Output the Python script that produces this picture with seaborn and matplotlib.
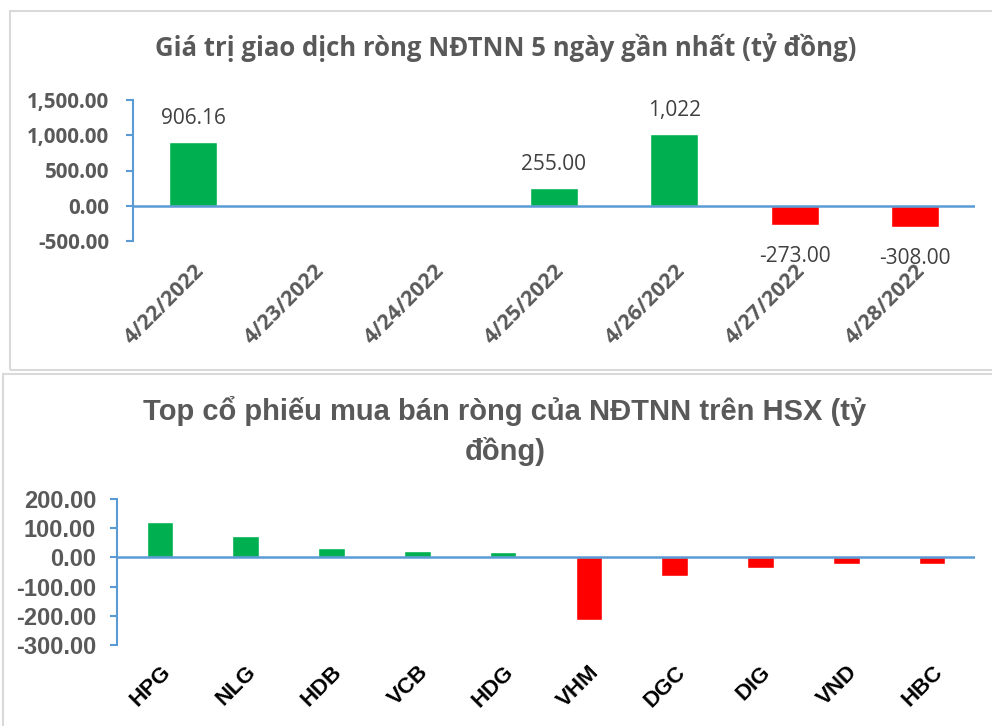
import matplotlib
matplotlib.use("Agg")
import matplotlib.pyplot as plt
import seaborn as sns
import pandas as pd
from matplotlib.patches import Rectangle
from matplotlib.lines import Line2D

sns.set_theme(style="white")
plt.rcParams['font.family'] = ['Open Sans', 'DejaVu Sans']

# ---- data ----
dates = ["4/22/2022", "4/23/2022", "4/24/2022", "4/25/2022", "4/26/2022", "4/27/2022", "4/28/2022"]
net_values = [906.16, 0, 0, 255.00, 1022, -273.00, -308.00]
value_labels = ["906.16", "", "", "255.00", "1,022", "-273.00", "-308.00"]

tickers = ["HPG", "NLG", "HDB", "VCB", "HDG", "VHM", "DGC", "DIG", "VND", "HBC"]
ticker_values = [120, 73, 32, 21, 18, -216, -63, -36, -22, -22]

top_title = "Giá trị giao dịch ròng NĐTNN 5 ngày gần nhất (tỷ đồng)"
bottom_title = "Top cổ phiếu mua bán ròng của NĐTNN trên HSX (tỷ\nđồng)"
top_yticks = [-500, 0, 500, 1000, 1500]
bottom_yticks = [-300, -200, -100, 0, 100, 200]

GREEN = "#00B050"
RED = "#FF0000"
AXBLUE = "#5B9BD5"
GRAY = "#595959"
OPEN = ['Open Sans', 'DejaVu Sans']
ARIAL = ['Liberation Sans', 'DejaVu Sans']

fig = plt.figure(figsize=(9.92, 7.26), dpi=100)
W, H = 992, 726

def fx(px):
    return px / W

def fy(py):
    return 1 - py / H

# panel borders
fig.add_artist(Rectangle((fx(10), fy(370)), fx(1000 - 10), (370 - 11) / H,
                         transform=fig.transFigure, fill=False, ec="#D9D9D9", lw=1.5))
fig.add_artist(Line2D([fx(3), fx(992)], [fy(374), fy(374)], transform=fig.transFigure,
                      color="#D9D9D9", lw=1.5))
fig.add_artist(Line2D([fx(3), fx(3)], [fy(374), fy(726)], transform=fig.transFigure,
                      color="#D9D9D9", lw=1.5))

def style_axis(ax, ticks, fmt, tick_family, xpad, yfs, ypad):
    for s in ["top", "right", "bottom"]:
        ax.spines[s].set_visible(False)
    ax.spines["left"].set_color(AXBLUE)
    ax.spines["left"].set_linewidth(1.5)
    ax.axhline(0, color=AXBLUE, lw=1.8, zorder=3)
    ax.set_yticks(ticks)
    ax.set_yticklabels([fmt(t) for t in ticks], fontsize=yfs, fontweight="bold",
                       color=GRAY, family=tick_family)
    ax.tick_params(axis="y", which="both", left=True, direction="out", length=5,
                   width=1.5, color=AXBLUE, pad=ypad)
    ax.tick_params(axis="x", bottom=False, pad=xpad)
    ax.set_xlabel("")
    ax.set_ylabel("")
    ax.grid(False)

# ---- top chart ----
ax1 = fig.add_axes([fx(133), fy(241), fx(975 - 133), (241 - 100) / H])
df1 = pd.DataFrame({"date": dates, "value": net_values})
colors1 = [GREEN if v >= 0 else RED for v in net_values]
sns.barplot(data=df1, x="date", y="value", hue="date", palette=colors1, legend=False,
            width=0.4, ax=ax1, zorder=2, saturation=1)
ax1.set_ylim(-500, 1500)
ax1.set_xlim(-0.5, len(dates) - 0.5)
style_axis(ax1, top_yticks, lambda t: f"{t:,.2f}", OPEN, 8, 14.8, 12)
ax1.set_xticks(range(len(dates)))
ax1.set_xticklabels(dates, rotation=45, ha="right", rotation_mode="anchor",
                    fontsize=15.5, fontweight="bold", color=GRAY, family=OPEN)
for i, (v, lab) in enumerate(zip(net_values, value_labels)):
    if not lab:
        continue
    if v >= 0:
        ax1.annotate(lab, (i, v), xytext=(0, 9), textcoords="offset points",
                     ha="center", va="bottom", fontsize=15, color="#404040", family=OPEN)
    else:
        ax1.annotate(lab, (i, v), xytext=(0, -15), textcoords="offset points",
                     ha="center", va="top", fontsize=15, color="#404040", family=OPEN)
fig.text(fx(506), fy(48), top_title, ha="center", va="center", fontsize=18.5,
         fontweight="bold", color=GRAY, family=OPEN)

# ---- bottom chart ----
ax2 = fig.add_axes([fx(117), fy(645), fx(975 - 117), (645 - 499) / H])
df2 = pd.DataFrame({"ticker": tickers, "value": ticker_values})
colors2 = [GREEN if v >= 0 else RED for v in ticker_values]
sns.barplot(data=df2, x="ticker", y="value", hue="ticker", palette=colors2, legend=False,
            width=0.31, ax=ax2, zorder=2, saturation=1)
ax2.set_ylim(-300, 200)
ax2.set_xlim(-0.5, len(tickers) - 0.5)
style_axis(ax2, bottom_yticks, lambda t: f"{t:,.2f}", ARIAL, 6, 17, 10)
ax2.set_xticks(range(len(tickers)))
ax2.set_xticklabels(tickers, rotation=45, ha="right", rotation_mode="anchor",
                    fontsize=16, fontweight="bold", color="black", family=ARIAL)
fig.text(fx(505), fy(431), bottom_title, ha="center", va="center", fontsize=21,
         fontweight="bold", color=GRAY, family=ARIAL, linespacing=1.5)

fig.savefig("out.png", dpi=100, facecolor="white")
